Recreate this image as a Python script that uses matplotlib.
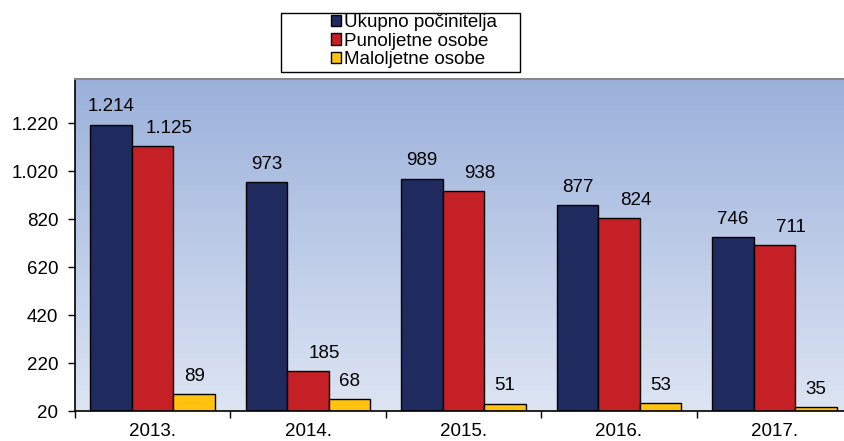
import matplotlib.pyplot as plt
import numpy as np
from matplotlib.colors import LinearSegmentedColormap
from matplotlib.patches import Rectangle

plt.rcParams['font.family'] = ['Liberation Sans', 'DejaVu Sans']

years = ['2013.', '2014.', '2015.', '2016.', '2017.']
ukupno = [1214, 973, 989, 877, 746]
punoljetne = [1125, 185, 938, 824, 711]
maloljetne = [89, 68, 51, 53, 35]
series_names = ['Ukupno počinitelja', 'Punoljetne osobe', 'Maloljetne osobe']
colors = ['#1F2A5E', '#C42026', '#FFC20E']
yticks = [20, 220, 420, 620, 820, 1020, 1220]

fs = 13.5
fig = plt.figure(figsize=(8.44, 4.41), dpi=100)
# plot area runs a little past the right edge of the image
ax = fig.add_axes([75 / 844, 1 - 411 / 441, (852 - 75) / 844, (411 - 79) / 441])

ymin, ymax = 20, 1404
x = np.arange(len(years))
w = 0.267

# gradient background
cmap = LinearSegmentedColormap.from_list('bg', ['#DDE5F3', '#9BB1DB'])
grad = np.linspace(0, 1, 256).reshape(-1, 1)
ax.imshow(grad, cmap=cmap, origin='lower', aspect='auto',
          extent=[-0.5, len(years) - 0.5, ymin, ymax], zorder=0)

label_dx = [0, 12, 0]  # red labels sit shifted to the right
for i, (vals, c) in enumerate(zip([ukupno, punoljetne, maloljetne], colors)):
    pos = x + (i - 1) * w
    ax.bar(pos, np.array(vals) - ymin, w, bottom=ymin, color=c,
           edgecolor='black', linewidth=1, zorder=2, label=series_names[i])
    for p, v in zip(pos, vals):
        ax.annotate(f'{v:,}'.replace(',', '.'), (p, v), xytext=(label_dx[i], 9.5),
                    textcoords='offset points', ha='center', va='baseline',
                    fontsize=fs, zorder=3)

ax.set_xlim(-0.5, len(years) - 0.5)
ax.set_ylim(ymin, ymax)
ax.set_yticks(yticks)
ax.set_yticklabels([f'{v:,}'.replace(',', '.') for v in yticks], fontsize=fs)
ax.set_xticks(x)
ax.set_xticklabels(years, fontsize=fs)
ax.tick_params(axis='x', length=0, pad=9)
ax.tick_params(axis='y', length=5, width=1, pad=7)
ax.set_xticks(np.arange(-0.5, len(years)), minor=True)
ax.tick_params(axis='x', which='minor', length=5, width=1)

ax.spines['right'].set_visible(False)
ax.spines['top'].set_color('#888888')
ax.spines['top'].set_linewidth(1.5)
ax.spines['left'].set_linewidth(1.2)
ax.spines['bottom'].set_linewidth(1.2)

# legend box
fig.patches.append(Rectangle((281 / 844, 1 - 72 / 441), (520 - 281) / 844, (72 - 13) / 441,
                             transform=fig.transFigure, fill=False,
                             edgecolor='black', linewidth=1))
fig.legend(loc='upper left', bbox_to_anchor=(331 / 844, 1 - 14 / 441), frameon=False,
           fontsize=fs, handlelength=0.55, handleheight=0.55, handletextpad=0.15,
           labelspacing=0.08, borderpad=0, borderaxespad=0)

fig.savefig('out.png', dpi=100)
